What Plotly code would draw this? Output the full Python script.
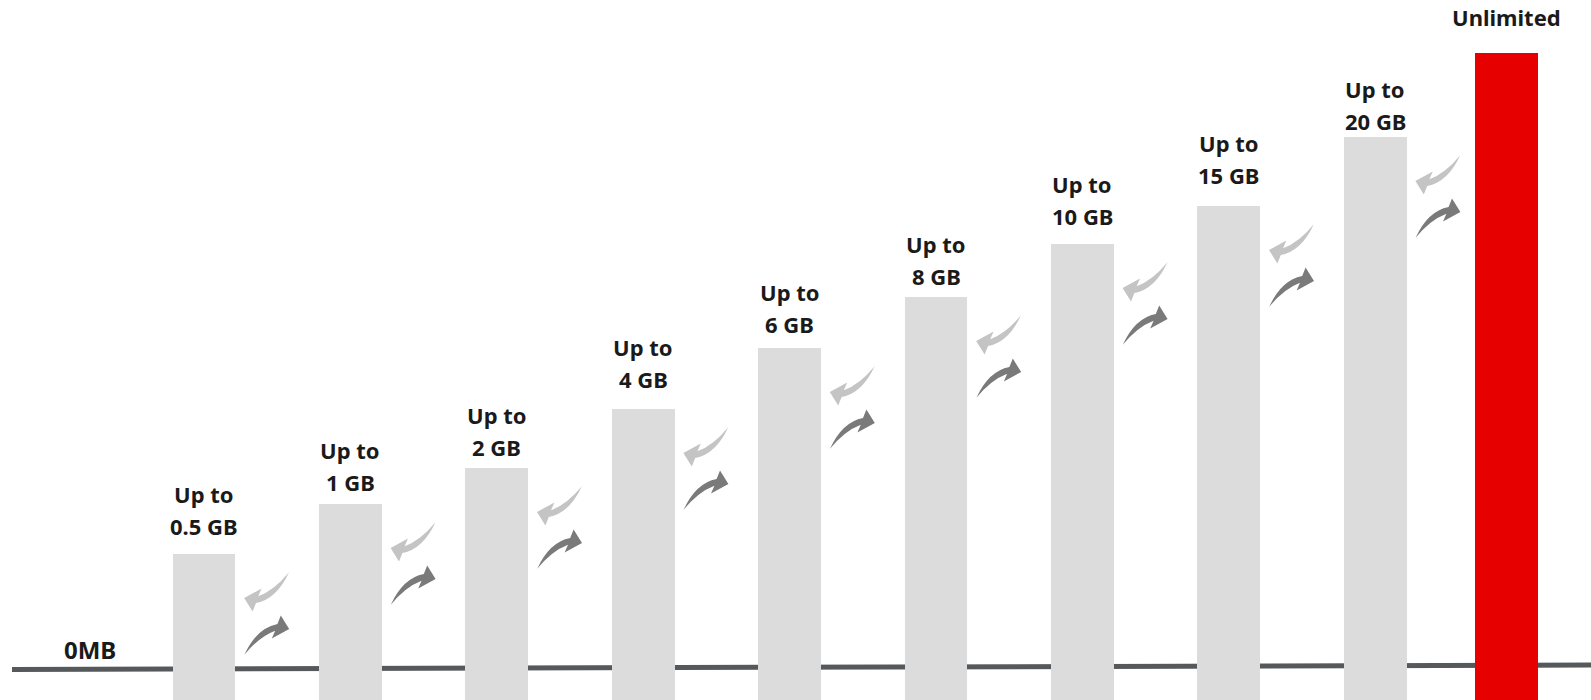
import plotly.graph_objects as go

# ---- data ----
plans = ["0.5 GB", "1 GB", "2 GB", "4 GB", "6 GB", "8 GB", "10 GB", "15 GB", "20 GB"]
plan_levels = [146, 196, 232, 291, 352, 403, 456, 494, 563]   # visual bar heights
top_plan = "Unlimited"
top_level = 647
prefix = "Up to"
baseline_label = "0MB"

# ---- layout helpers (not data) ----
label_gaps = [21, 15, 14, 23, 17, 14, 21, 24, 9]   # px between value line baseline and bar top
W, H = 1591, 700
STEP = 146.4          # px per category
LEFT = 130.8          # px where category -0.5 sits
GREY = "#dcdcdd"
RED = "#e60000"
LIGHT = "#c4c4c4"
DARK = "#7a7a7a"
FONT = dict(family="Noto Sans", size=22, color="#1a1a1a", weight="bold")

fig = go.Figure()
fig.add_trace(go.Bar(x=plans, y=plan_levels, marker=dict(color=GREY, line=dict(width=0)),
                     width=0.43, hoverinfo="skip", xaxis="x", yaxis="y"))
fig.add_trace(go.Bar(x=[top_plan], y=[top_level], marker=dict(color=RED, line=dict(width=0)),
                     width=0.43, hoverinfo="skip", xaxis="x2", yaxis="y"))

# baseline line (under the bars)
fig.add_shape(type="line", xref="paper", yref="y", x0=12 / W, x1=1.0, y0=30.5, y1=35,
              line=dict(color="#55595b", width=5), layer="below")

annotations = []
for i, (p, v) in enumerate(zip(plans, plan_levels)):
    g = label_gaps[i]
    annotations.append(dict(x=p, y=v, xref="x", yref="y", text=p, showarrow=False,
                            yanchor="middle", yshift=g + 7, font=FONT))
    annotations.append(dict(x=p, y=v, xref="x", yref="y", text=prefix, showarrow=False,
                            yanchor="middle", yshift=g + 39, font=FONT))
annotations.append(dict(x=top_plan, y=top_level, xref="x2", yref="y", text=top_plan,
                        showarrow=False, yanchor="middle", yshift=36, font=FONT))
annotations.append(dict(x=90 / W, y=51, xref="paper", yref="y", text=baseline_label,
                        showarrow=False, yanchor="middle", xanchor="center",
                        font=dict(family="Noto Sans", size=24, color="#1a1a1a", weight="bold")))

# curved swoosh arrow, screen coords (y down) relative to the tip
ARROW = [("M", (-40, 23)), ("Q", (-29, -1), (-10.5, -4.5)), ("L", (-7.5, -12)), ("L", (0, 0)),
         ("L", (-15.5, 8.5)), ("L", (-12.5, 1.5)), ("Q", (-27, 7), (-40, 23))]
SCALE = 1.12


def arrow_path(dx, dy, flip):
    s = (-1 if flip else 1) * SCALE
    out = []
    for seg in ARROW:
        cmd, pts = seg[0], seg[1:]
        coords = " ".join(f"{dx + s * px:.1f},{-(dy + s * py):.1f}" for px, py in pts)
        out.append(f"{cmd}{coords}")
    return " ".join(out) + " Z"


n = len(plans)
for i in range(n):
    v = plan_levels[i]
    # light return arrow (points down-left), dark upgrade arrow (points up-right)
    fig.add_shape(type="path", xref="x", yref="y", xsizemode="pixel", ysizemode="pixel",
                  xanchor=i + 0.5, yanchor=v, path=arrow_path(-33, 44, True),
                  fillcolor=LIGHT, line=dict(width=0), layer="above")
    fig.add_shape(type="path", xref="x", yref="y", xsizemode="pixel", ysizemode="pixel",
                  xanchor=i + 0.5, yanchor=v, path=arrow_path(12, 75, False),
                  fillcolor=DARK, line=dict(width=0), layer="above")

x_lo = -0.5 - LEFT / STEP
x_hi = x_lo + W / STEP

fig.update_layout(
    width=W, height=H, margin=dict(l=0, r=0, t=0, b=0),
    paper_bgcolor="white", plot_bgcolor="rgba(0,0,0,0)", showlegend=False,
    bargap=0, annotations=annotations,
    xaxis=dict(type="category", domain=[0, 1], range=[x_lo, x_hi],
               visible=False, fixedrange=True),
    xaxis2=dict(type="category", domain=[1432.8 / W, 1579.2 / W], range=[-0.5, 0.5],
                visible=False, anchor="y", fixedrange=True),
    yaxis=dict(range=[0, 700], domain=[0, 1], visible=False, fixedrange=True),
)

fig.write_html("out.html", config={"displayModeBar": False},
               post_script="document.body.style.margin='0';document.body.style.overflow='hidden';")
